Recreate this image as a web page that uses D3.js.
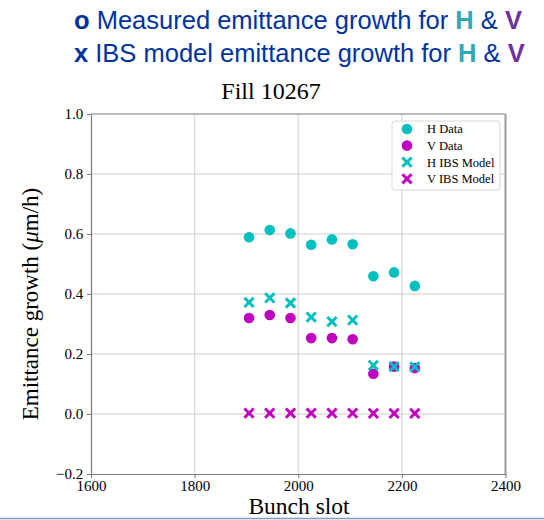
<!DOCTYPE html>
<html>
<head>
<meta charset="utf-8">
<script src="https://cdn.jsdelivr.net/npm/d3@7/dist/d3.min.js"></script>
<style>
  html, body { margin: 0; padding: 0; background: #fff; }
  svg { display: block; }
</style>
</head>
<body>
<svg id="chart" width="544" height="520"></svg>
<script>
// Bunch slots and emittance growth rates (µm/h)
const bunchSlots = [1905, 1945, 1985, 2025, 2065, 2105, 2145, 2185, 2225];
const hData = [0.589, 0.613, 0.602, 0.564, 0.582, 0.566, 0.459, 0.472, 0.427];
const vData = [0.320, 0.330, 0.320, 0.253, 0.253, 0.249, 0.134, 0.158, 0.153];
const hModel = [0.372, 0.387, 0.370, 0.323, 0.308, 0.313, 0.162, 0.158, 0.157];
const vModel = [0.003, 0.003, 0.003, 0.003, 0.003, 0.003, 0.002, 0.002, 0.002];

const xTicks = [1600, 1800, 2000, 2200, 2400];
const yTicks = [-0.2, 0.0, 0.2, 0.4, 0.6, 0.8, 1.0];

const series = [
  { name: "H Data", values: hData, color: "#00bfbf", shape: "circle" },
  { name: "V Data", values: vData, color: "#bf00bf", shape: "circle" },
  { name: "H IBS Model", values: hModel, color: "#00bfbf", shape: "cross" },
  { name: "V IBS Model", values: vModel, color: "#bf00bf", shape: "cross" }
];

const svg = d3.select("#chart");
const serif = "'Liberation Serif', 'Times New Roman', serif";
const sans = "'Liberation Sans', Arial, sans-serif";

const plotL = 91, plotR = 505.5, plotT = 114, plotB = 474;
const x = d3.scaleLinear().domain([1600, 2400]).range([plotL, plotR]);
const y = d3.scaleLinear().domain([-0.2, 1.0]).range([plotB, plotT]);

// Header lines
const header = [
  { y: 28.5, parts: [["o ", "#0033a0", "bold"], ["Measured emittance growth for ", "#0033a0", "normal"], ["H", "#31a8b8", "bold"], [" & ", "#0033a0", "normal"], ["V", "#7030a0", "bold"]] },
  { y: 61.5, parts: [["x ", "#0033a0", "bold"], ["IBS model emittance growth for ", "#0033a0", "normal"], ["H", "#31a8b8", "bold"], [" & ", "#0033a0", "normal"], ["V", "#7030a0", "bold"]] }
];
header.forEach(h => {
  const t = svg.append("text").attr("x", 74).attr("y", h.y)
    .attr("font-family", sans).attr("font-size", 25.5).attr("xml:space", "preserve");
  h.parts.forEach(p => t.append("tspan").text(p[0]).attr("fill", p[1]).attr("font-weight", p[2]));
});

// Chart title
svg.append("text").attr("x", 271).attr("y", 99)
  .attr("text-anchor", "middle").attr("font-family", serif).attr("font-size", 24)
  .attr("fill", "#000").text("Fill 10267");

// Grid
const grid = svg.append("g");
grid.selectAll("line.gx").data(xTicks.slice(1, -1)).join("line")
  .attr("x1", d => x(d)).attr("x2", d => x(d)).attr("y1", plotT).attr("y2", plotB)
  .attr("stroke", "#d9d9d9").attr("stroke-width", 1.3);
grid.selectAll("line.gy").data(yTicks.slice(1, -1)).join("line")
  .attr("y1", d => y(d)).attr("y2", d => y(d)).attr("x1", plotL).attr("x2", plotR)
  .attr("stroke", "#d0d0d0").attr("stroke-width", 1.2);

// Axes
const xAxis = svg.append("g").attr("transform", `translate(0,${plotB})`)
  .call(d3.axisBottom(x).tickValues(xTicks).tickFormat(d3.format("d")).tickSize(4).tickPadding(2).tickSizeOuter(0));
const yAxis = svg.append("g").attr("transform", `translate(${plotL},0)`)
  .call(d3.axisLeft(y).tickValues(yTicks).tickFormat(d => d < 0 ? "\u22120.2" : d3.format(".1f")(d)).tickSize(4).tickSizeOuter(0));
[xAxis, yAxis].forEach(a => {
  a.select(".domain").attr("stroke", "#7a7a7a").attr("stroke-width", 1.2);
  a.selectAll(".tick line").attr("stroke", "#7a7a7a");
  a.selectAll(".tick text").attr("font-family", serif).attr("font-size", 15).attr("fill", "#000");
});
yAxis.selectAll(".tick text").attr("dx", "-0.05em");

// Top and right frame
svg.append("line").attr("x1", plotL).attr("x2", plotR).attr("y1", plotT).attr("y2", plotT)
  .attr("stroke", "#7a7a7a").attr("stroke-width", 1.2);
svg.append("line").attr("x1", plotR).attr("x2", plotR).attr("y1", plotT).attr("y2", plotB)
  .attr("stroke", "#9a9a9a").attr("stroke-width", 2);

// Axis labels
svg.append("text").attr("x", 299).attr("y", 514)
  .attr("text-anchor", "middle").attr("font-family", serif).attr("font-size", 23.5)
  .attr("fill", "#000").text("Bunch slot");
const yl = svg.append("text").attr("transform", `translate(38,${(plotT + plotB) / 2 + 10}) rotate(-90)`)
  .attr("text-anchor", "middle").attr("font-family", serif).attr("font-size", 23).attr("fill", "#000");
yl.append("tspan").text("Emittance growth (");
yl.append("tspan").text("\u03bc").attr("font-style", "italic");
yl.append("tspan").text("m/h)");

// Marker drawing
function drawMarker(g, shape, color, cx, cy, s) {
  if (shape === "circle") {
    g.append("circle").attr("cx", cx).attr("cy", cy).attr("r", s).attr("fill", color);
  } else {
    g.append("path")
      .attr("d", `M${cx - s},${cy - s}L${cx + s},${cy + s}M${cx - s},${cy + s}L${cx + s},${cy - s}`)
      .attr("stroke", color).attr("stroke-width", 3).attr("fill", "none");
  }
}

const marks = svg.append("g");
series.forEach(s => {
  const g = marks.append("g").attr("class", s.name);
  s.values.forEach((v, i) => drawMarker(g, s.shape, s.color, x(bunchSlots[i]), y(v), s.shape === "circle" ? 5.3 : 4.6));
});

// Legend
const lg = svg.append("g");
lg.append("rect").attr("x", 392).attr("y", 121).attr("width", 108).attr("height", 69)
  .attr("rx", 3).attr("fill", "#fff").attr("fill-opacity", 0.85)
  .attr("stroke", "#d8d8d8").attr("stroke-width", 1);
series.forEach((s, i) => {
  const cy = 129 + i * 16.6;
  drawMarker(lg, s.shape, s.color, 407, cy, s.shape === "circle" ? 5.3 : 4.6);
  lg.append("text").attr("x", 427).attr("y", cy + 4.3).attr("font-family", serif)
    .attr("font-size", 12.5).attr("fill", "#000").text(s.name);
});

// Bottom rule
svg.append("line").attr("x1", 0).attr("x2", 544).attr("y1", 518.5).attr("y2", 518.5)
  .attr("stroke", "#7f9ccf").attr("stroke-width", 1.5);
</script>
</body>
</html>
